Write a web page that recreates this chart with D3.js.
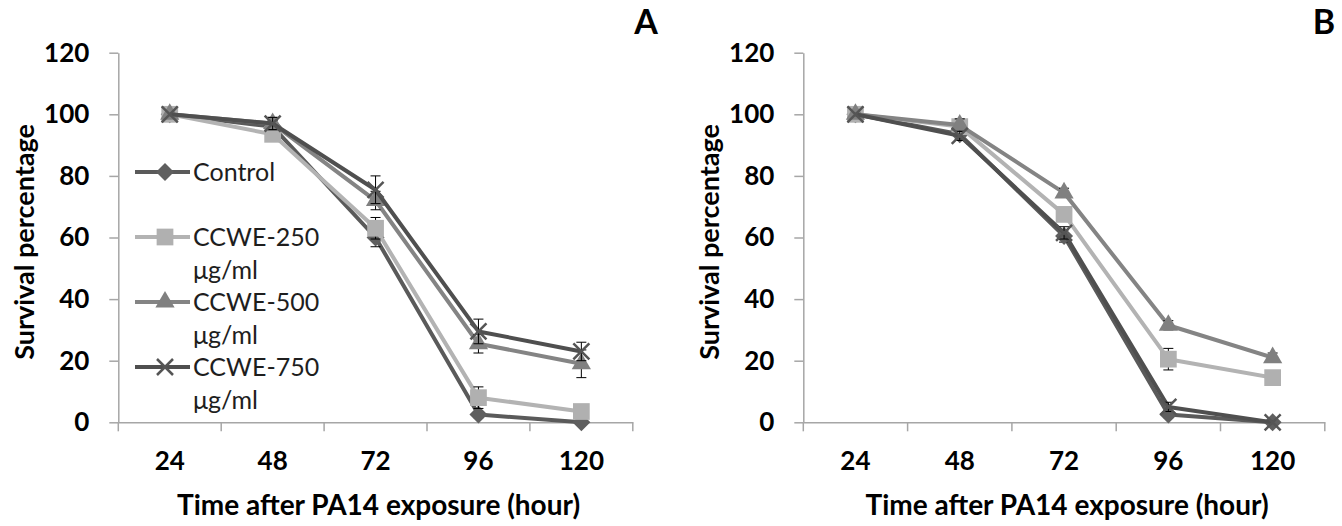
<!DOCTYPE html>
<html>
<head>
<meta charset="utf-8">
<script src="https://cdn.jsdelivr.net/npm/d3@7"></script>
<style>
  body { margin: 0; background: #fff; }
  svg { display: block; font-family: Lato, "Open Sans", sans-serif; }
</style>
</head>
<body>
<svg width="1342" height="526"></svg>
<script>
const svg = d3.select('svg');

// data
const hours = ['24', '48', '72', '96', '120'];
const seriesNames = ['Control', 'CCWE-250 μg/ml', 'CCWE-500 μg/ml', 'CCWE-750 μg/ml'];
const yTicks = [0, 20, 40, 60, 80, 100, 120];

const controlA = [100, 96, 60, 2.5, 0];
const ccwe250A = [100, 93.5, 63, 8, 3.5];
const ccwe500A = [100, 97, 72, 25.5, 19];
const ccwe750A = [100, 97, 75.5, 29.5, 23];
const controlErrA = [0, 2, 3, 1, 0];
const ccwe250ErrA = [0, 2, 3.5, 3.5, 1];
const ccwe500ErrA = [0, 2, 3, 3, 4.5];
const ccwe750ErrA = [0, 2, 4.5, 4, 3];

const controlB = [100, 93.5, 60.5, 2.5, 0];
const ccwe250B = [100, 96, 67.5, 20.5, 14.5];
const ccwe500B = [100, 96.5, 74.5, 31.5, 21];
const ccwe750B = [100, 93, 61.5, 5, 0];
const controlErrB = [0, 1.5, 2, 1, 0];
const ccwe250ErrB = [0, 2.5, 2, 3.5, 1];
const ccwe500ErrB = [0, 2, 1.5, 1.5, 1.5];
const ccwe750ErrB = [0, 1.5, 2, 1.5, 0];

const lineColors = ['#5a5a5a', '#b3b3b3', '#848484', '#4f4f4f'];
const markerColors = ['#5f5f5f', '#b0b0b0', '#808080', '#555555'];
const markerTypes = ['diamond', 'square', 'triangle', 'x'];

const y = d3.scaleLinear().domain([0, 120]).range([422.3, 52.7]);

const markerPath = (type) => {
  if (type === 'diamond') return 'M0,-9L9,0L0,9L-9,0Z';
  if (type === 'square') return d3.symbol(d3.symbolSquare, 280)();
  if (type === 'triangle') return d3.symbol(d3.symbolTriangle, 160)();
  const s = 8;
  return `M${-s},${-s}L${s},${s}M${-s},${s}L${s},${-s}`;
};

const drawMarker = (sel, type, color) => {
  const p = sel.append('path').attr('d', markerPath(type));
  if (type === 'x') {
    p.attr('fill', 'none').attr('stroke', color).attr('stroke-width', 2.5);
  } else {
    p.attr('fill', color);
  }
  return p;
};

const drawPanel = (x0, x1, data, errs, letter, letterX) => {
  const x = d3.scaleBand().domain(hours).range([x0, x1]);
  const g = svg.append('g');
  const axisColor = '#a6a6a6';

  // y axis
  const yAxis = g.append('g')
    .attr('transform', `translate(${x0},0)`)
    .call(d3.axisLeft(y).tickValues(yTicks).tickSize(9).tickSizeOuter(0).tickPadding(20));
  yAxis.select('.domain').attr('stroke', axisColor).attr('stroke-width', 1.5);
  yAxis.selectAll('.tick line').attr('stroke', axisColor).attr('stroke-width', 1.5);
  yAxis.selectAll('.tick text')
    .attr('font-family', 'Lato, sans-serif')
    .attr('font-size', 26).attr('font-weight', 'bold').attr('fill', '#000');

  // x axis: labels at band centres, ticks at band edges
  const xAxis = g.append('g')
    .attr('transform', `translate(0,${y(0)})`)
    .call(d3.axisBottom(x).tickSize(0).tickPadding(29).tickSizeOuter(0));
  xAxis.select('.domain').attr('stroke', axisColor).attr('stroke-width', 1.5);
  xAxis.selectAll('.tick text')
    .attr('font-family', 'Lato, sans-serif')
    .attr('font-size', 26).attr('font-weight', 'bold').attr('fill', '#000');
  const edges = hours.map(h => x(h)).concat([x1]);
  g.selectAll('.xedge').data(edges).enter().append('line')
    .attr('class', 'xedge')
    .attr('x1', d => d).attr('x2', d => d)
    .attr('y1', y(0)).attr('y2', y(0) + 9)
    .attr('stroke', axisColor).attr('stroke-width', 1.5);

  // axis titles
  g.append('text')
    .attr('x', (x0 + x1) / 2 + 3).attr('y', 515)
    .attr('text-anchor', 'middle')
    .attr('font-size', 28).attr('font-weight', 'bold').attr('fill', '#000')
    .text('Time after PA14 exposure (hour)');
  g.append('text')
    .attr('transform', `translate(${x0 - 84},242) rotate(-90)`)
    .attr('text-anchor', 'middle')
    .attr('font-size', 27).attr('font-weight', 'bold').attr('fill', '#000')
    .text('Survival  percentage');

  g.append('text')
    .attr('x', letterX).attr('y', 34)
    .attr('text-anchor', 'middle')
    .attr('font-size', 34).attr('font-weight', 'bold').attr('fill', '#000')
    .text(letter);

  const cx = (i) => x(hours[i]) + x.bandwidth() / 2;
  const line = d3.line().x((d, i) => cx(i)).y(d => y(d));

  data.forEach((vals, s) => {
    const sg = g.append('g');
    sg.append('path')
      .attr('d', line(vals))
      .attr('fill', 'none')
      .attr('stroke', lineColors[s])
      .attr('stroke-width', 4)
      .attr('stroke-linejoin', 'round');
    // error bars
    vals.forEach((v, i) => {
      const e = errs[s][i];
      if (!e) return;
      const xx = cx(i);
      sg.append('path')
        .attr('d', `M${xx},${y(v - e)}V${y(v + e)}M${xx - 5},${y(v - e)}H${xx + 5}M${xx - 5},${y(v + e)}H${xx + 5}`)
        .attr('stroke', '#000').attr('stroke-width', 1).attr('fill', 'none');
    });
    vals.forEach((v, i) => {
      drawMarker(sg, markerTypes[s], markerColors[s])
        .attr('transform', `translate(${cx(i)},${y(v)})`);
    });
  });
};

drawPanel(118.3, 632.8, [controlA, ccwe250A, ccwe500A, ccwe750A],
  [controlErrA, ccwe250ErrA, ccwe500ErrA, ccwe750ErrA], 'A', 646);
drawPanel(803.3, 1324.8, [controlB, ccwe250B, ccwe500B, ccwe750B],
  [controlErrB, ccwe250ErrB, ccwe500ErrB, ccwe750ErrB], 'B', 1324);

// legend (panel A only)
const legend = svg.append('g');
const rowY = [172, 237, 302, 367];
seriesNames.forEach((name, i) => {
  const ry = rowY[i];
  legend.append('line')
    .attr('x1', 135).attr('x2', 190).attr('y1', ry).attr('y2', ry)
    .attr('stroke', lineColors[i]).attr('stroke-width', 4);
  drawMarker(legend, markerTypes[i], markerColors[i])
    .attr('transform', `translate(165,${ry})`);
  const parts = name.split(' ');
  const t = legend.append('text')
    .attr('x', 193).attr('y', ry + 9)
    .attr('font-size', 25).attr('fill', '#1e1e1e');
  parts.forEach((p, k) => {
    t.append('tspan').attr('x', 193).attr('dy', k === 0 ? 0 : 33).text(p);
  });
});
</script>
</body>
</html>
